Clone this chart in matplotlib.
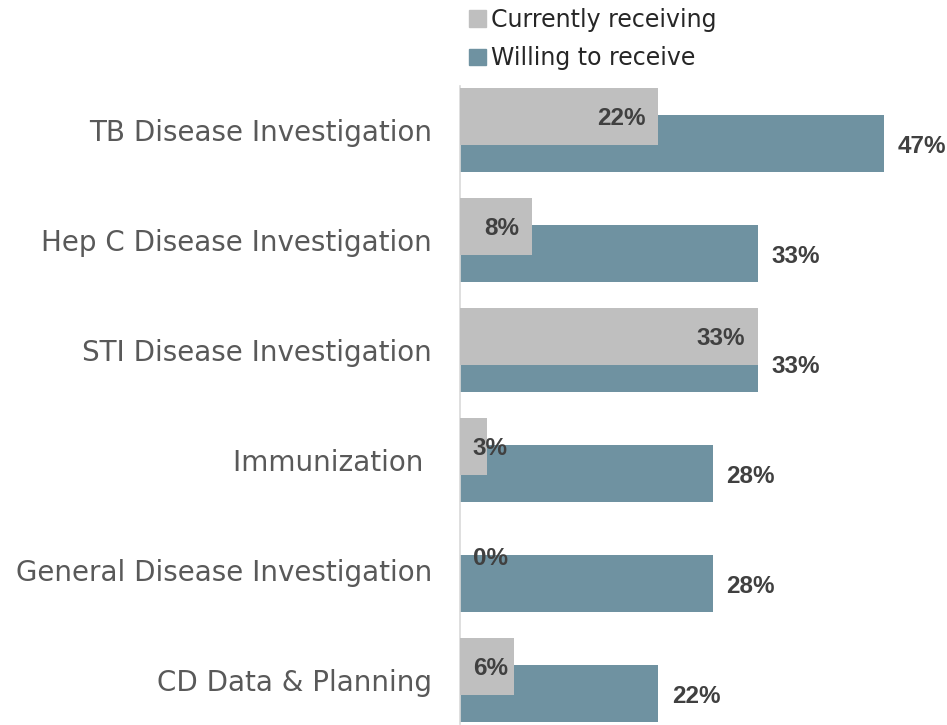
import matplotlib.pyplot as plt
from matplotlib.patches import Patch

categories = [
    "TB Disease Investigation",
    "Hep C Disease Investigation",
    "STI Disease Investigation",
    "Immunization ",
    "General Disease Investigation",
    "CD Data & Planning",
]
currently_receiving = [22, 8, 33, 3, 0, 6]
willing_to_receive = [47, 33, 33, 28, 28, 22]
series_names = ["Currently receiving", "Willing to receive"]

gray = "#BFBFBF"
teal = "#6F92A1"
label_color = "#595959"
value_color = "#404040"

fig = plt.figure(figsize=(9.47, 7.25), dpi=100)
ax = fig.add_axes([460 / 947, 1 / 725, 1 - 460 / 947, 638 / 725])

ypos = list(range(len(categories)))
h = 0.52
off = 0.123
val_font = dict(fontsize=17.5, fontweight="bold", color=value_color,
                family="Liberation Sans", zorder=4)

# willing first so the gray bars sit on top
ax.barh([y + off for y in ypos], willing_to_receive, height=h, color=teal, zorder=2)
ax.barh([y - off for y in ypos], currently_receiving, height=h, color=gray, zorder=3)

for y, v in zip(ypos, currently_receiving):
    if v < 7:
        ax.text(1.4, y - off + 0.02, f"{v}%", ha="left", va="center", **val_font)
    else:
        ax.text(v - 1.4, y - off + 0.02, f"{v}%", ha="right", va="center", **val_font)

for y, v in zip(ypos, willing_to_receive):
    ax.text(v + 1.5, y + off + 0.03, f"{v}%", ha="left", va="center", **val_font)

ax.set_xlim(0, 54)
ax.set_ylim(len(categories) - 0.6, -0.4)
ax.set_yticks(ypos)
ax.set_yticklabels(categories, fontsize=20, color=label_color, family="DejaVu Sans")
ax.tick_params(axis="y", length=0, pad=20)
ax.set_xticks([])
for s in ["top", "right", "bottom"]:
    ax.spines[s].set_visible(False)
ax.spines["left"].set_color("#D9D9D9")
ax.spines["left"].set_linewidth(1.2)

handles = [Patch(color=gray), Patch(color=teal)]
fig.legend(handles, series_names, loc="upper left", bbox_to_anchor=(469 / 947, 1 - 8 / 725),
           frameon=False, borderpad=0, borderaxespad=0,
           handlelength=0.7, handleheight=0.7, handletextpad=0.25,
           labelspacing=0.6, prop={"family": "DejaVu Sans", "size": 17}, labelcolor="#262626")

fig.savefig("out.png", dpi=100)
